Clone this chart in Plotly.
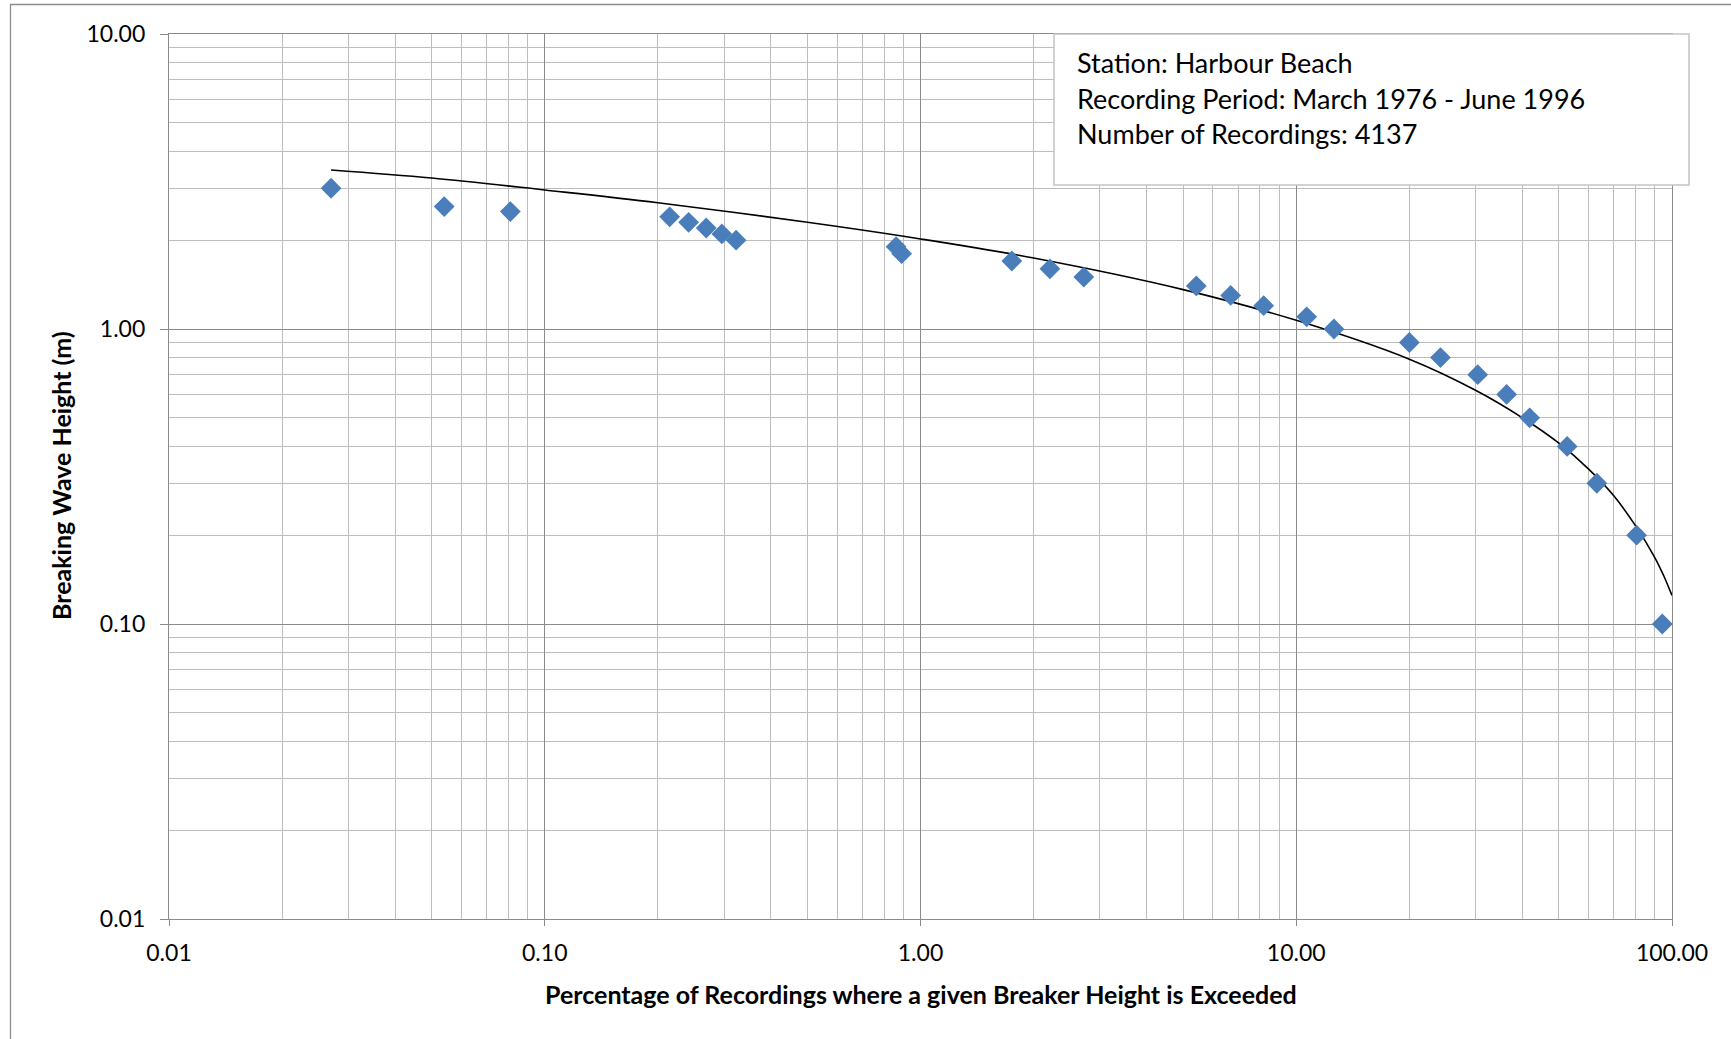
import plotly.graph_objects as go

# ---------------- data ----------------
pct_exceeded = [0.027, 0.054, 0.081, 0.215, 0.2415, 0.269, 0.296, 0.323, 0.861, 0.891,
                1.75, 2.21, 2.72, 5.42, 6.69, 8.19, 10.66, 12.6, 20.0, 24.2,
                30.4, 36.3, 41.8, 52.6, 63.1, 80.5, 94.2]
wave_height = [3.0, 2.6, 2.5, 2.4, 2.3, 2.2, 2.1, 2.0, 1.9, 1.8,
               1.7, 1.6, 1.5, 1.4, 1.3, 1.2, 1.1, 1.0, 0.9, 0.8,
               0.7, 0.6, 0.5, 0.4, 0.3, 0.2, 0.1]

# trend line
trend_x = [0.027, 0.05, 0.1, 0.2, 0.5, 1, 2, 5, 10, 20, 30, 40, 50, 60, 70, 80, 90, 95, 98, 100]
trend_y = [3.46, 3.25, 2.96, 2.68, 2.30, 2.02, 1.74, 1.36, 1.07, 0.79, 0.62, 0.50, 0.41,
           0.335, 0.272, 0.215, 0.168, 0.146, 0.133, 0.125]

major_ticks = [0.01, 0.1, 1, 10, 100]
x_tick_labels = ["0.01", "0.10", "1.00", "10.00", "100.00"]
y_major_ticks = [0.01, 0.1, 1, 10]
y_tick_labels = ["0.01", "0.10", "1.00", "10.00"]

info_lines = ["Station: Harbour Beach",
              "Recording Period: March 1976 - June 1996",
              "Number of Recordings: 4137"]
x_title = "Percentage of Recordings where a given Breaker Height is Exceeded"
y_title = "Breaking Wave Height (m)"

# ---------------- layout geometry (pixels) ----------------
FW, FH = 1731, 1039
L, R, T, B = 169, 1672, 34, 919
W, H = R - L, B - T


def px(x):
    return (x - L) / W


def py(y):
    return (B - y) / H


minor_x = [m * 10 ** k for k in range(-2, 2) for m in range(2, 10)]
minor_y = [m * 10 ** k for k in range(-2, 1) for m in range(2, 10)]

FONT = "Lato, Carlito, Calibri, sans-serif"
MAJOR = "#8a8a8a"
MINOR = "#bdbdbd"
BLUE = "#4a7ebb"

fig = go.Figure()

fig.add_trace(go.Scatter(
    x=trend_x, y=trend_y, mode="lines", line=dict(color="black", width=1.6, shape="spline"),
    hoverinfo="skip", showlegend=False))

fig.add_trace(go.Scatter(
    x=pct_exceeded, y=wave_height, mode="markers",
    marker=dict(symbol="diamond", size=16, color=BLUE, line=dict(width=0)),
    showlegend=False))

axis_common = dict(
    type="log", showgrid=True, gridcolor=MAJOR, gridwidth=1.2,
    showline=True, linecolor=MAJOR, linewidth=1.2, mirror=True,
    ticks="outside", tickcolor=MAJOR, tickwidth=1.2,
    tickfont=dict(family=FONT, size=23, color="black"),
    zeroline=False,
)

fig.update_xaxes(
    **axis_common, range=[-2, 2], tickmode="array", tickvals=major_ticks,
    ticktext=x_tick_labels, ticklen=6, ticklabelstandoff=7,
    minor=dict(tickmode="array", tickvals=minor_x, showgrid=True, gridcolor=MINOR,
               gridwidth=1.2, ticks=""),
)
fig.update_yaxes(
    **axis_common, range=[-2, 1], tickmode="array", tickvals=y_major_ticks,
    ticktext=y_tick_labels, ticklen=8, ticklabelstandoff=10,
    minor=dict(tickmode="array", tickvals=minor_y, showgrid=True, gridcolor=MINOR,
               gridwidth=1.2, ticks=""),
)

shapes = [
    # outer chart border
    dict(type="rect", xref="paper", yref="paper",
         x0=px(10.5), x1=px(1760), y0=py(4.5), y1=py(1070),
         line=dict(color="#8c8c8c", width=1.3), fillcolor="rgba(0,0,0,0)", layer="above"),
    # info box
    dict(type="rect", xref="paper", yref="paper",
         x0=px(1054), x1=px(1689), y0=py(185), y1=py(34),
         line=dict(color="#c4c4c4", width=1.5), fillcolor="white", layer="above"),
]

annotations = []
for i, line in enumerate(info_lines):
    annotations.append(dict(
        xref="paper", yref="paper", x=px(1075), y=py(63 + 35.3 * i),
        xanchor="left", yanchor="middle", showarrow=False, text=line,
        font=dict(family=FONT, size=27, color="black")))

annotations.append(dict(
    xref="paper", yref="paper", x=px(921), y=py(994), xanchor="center", yanchor="middle",
    showarrow=False, text="<b>" + x_title + "</b>",
    font=dict(family=FONT, size=25, color="black")))
annotations.append(dict(
    xref="paper", yref="paper", x=px(61), y=py(476), xanchor="center", yanchor="middle",
    showarrow=False, text="<b>" + y_title + "</b>", textangle=-90,
    font=dict(family=FONT, size=25, color="black")))

fig.update_layout(
    width=FW, height=FH, autosize=False,
    margin=dict(l=L, r=FW - R, t=T, b=FH - B, pad=0),
    paper_bgcolor="white", plot_bgcolor="white",
    shapes=shapes, annotations=annotations,
    showlegend=False, hovermode="closest",
)

fig.write_html("out.html", config={"displayModeBar": False},
               post_script="document.body.style.margin='0';document.body.style.overflow='hidden';")
